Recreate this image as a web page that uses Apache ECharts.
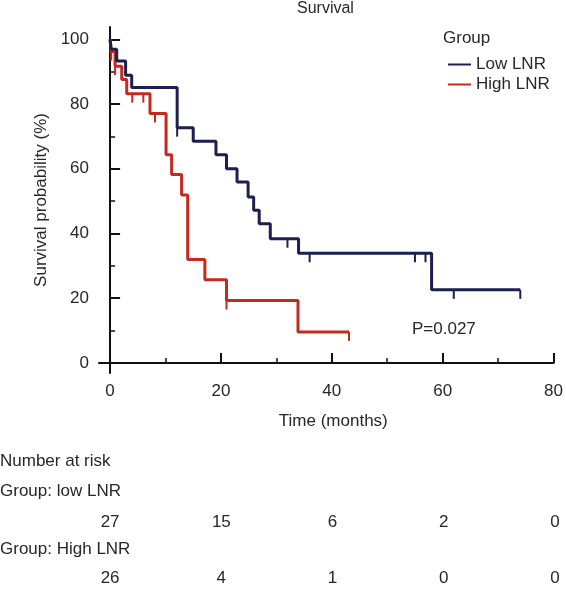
<!DOCTYPE html>
<html>
<head>
<meta charset="utf-8">
<script src="https://cdn.jsdelivr.net/npm/echarts@6/dist/echarts.min.js"></script>
<style>html,body{margin:0;padding:0;background:#fff}#c{width:566px;height:591px}</style>
</head>
<body>
<div id="c"></div>
<script>
// Low LNR step curve
var lowTimes = [0, 0.2, 1.2, 2.8, 3.9, 12.1, 15.0, 19.1, 21.0, 22.9, 24.9, 25.9, 26.9, 28.9, 34.0, 58.0, 74.0];
var lowSurv  = [100, 96.9, 93.3, 88.9, 85.1, 72.7, 68.5, 64.3, 60.0, 55.9, 51.3, 47.2, 43.0, 38.4, 33.9, 22.6, 22.6];
var lowCensorTimes = [12.1, 32.0, 36.0, 55.0, 56.9, 62.0, 74.0];
var lowCensorSurv  = [72.7, 38.4, 33.9, 33.9, 33.9, 22.6, 22.6];
// High LNR step curve
var highTimes = [0, 0.2, 0.9, 2.1, 3.0, 7.2, 10.1, 11.1, 12.9, 14.0, 17.1, 21.0, 33.9, 43.1];
var highSurv  = [100, 96.2, 91.7, 87.6, 83.2, 77.1, 64.3, 58.2, 51.9, 32.0, 25.7, 19.3, 9.6, 9.6];
var highCensorTimes = [0.2, 0.9, 4.0, 6.0, 8.1, 21.0, 43.1];
var highCensorSurv  = [96.2, 91.7, 83.2, 83.2, 77.1, 19.3, 9.6];
// axis ticks
var xMajorTicks = [0, 20, 40, 60, 80];
var xMinorTicks = [10, 30, 50, 70];
var yMajorTicks = [0, 20, 40, 60, 80, 100];
var yMinorTicks = [10, 30, 50, 70, 90];
// number at risk
var riskTimes = [0, 20, 40, 60, 80];
var riskLow  = [27, 15, 6, 2, 0];
var riskHigh = [26, 4, 1, 0, 0];

var FONT = "'Liberation Sans', Arial, Helvetica, sans-serif";
var NAVY = '#1d1f4e';
var RED = '#c42a1d';
var TXT = '#26262e';

function zip(a, b) { return a.map(function (v, i) { return [v, b[i]]; }); }

var riskData = [];
riskTimes.forEach(function (t, i) { riskData.push([t, 0, riskLow[i]]); });
riskTimes.forEach(function (t, i) { riskData.push([t, 1, riskHigh[i]]); });

var chart = echarts.init(document.getElementById('c'), null, { renderer: 'canvas' });
var option = {
  animation: false,
  textStyle: { fontFamily: FONT },
  grid: [
    { left: 99, right: 11, top: 27, bottom: 218 },
    { left: 99, right: 11, top: 522, bottom: 13 }
  ],
  xAxis: [
    {
      type: 'value', gridIndex: 0, position: 'bottom', min: -2, max: 80,
      axisLine: { show: true, lineStyle: { color: '#111', width: 2 } },
      axisTick: { show: true, inside: true, length: 10, customValues: xMajorTicks, lineStyle: { color: '#111', width: 2 } },
      axisLabel: { customValues: xMajorTicks, fontSize: 17, color: TXT, margin: 10, fontFamily: FONT },
      splitLine: { show: false },
      name: 'Time (months)', nameLocation: 'middle', nameGap: 40,
      nameTextStyle: { fontSize: 17, color: TXT, fontFamily: FONT, padding: [0, 0, 0, 14] }
    },
    {
      type: 'value', gridIndex: 0, position: 'bottom', min: -2, max: 80,
      axisLine: { show: false },
      axisTick: { show: true, inside: true, length: 5, customValues: xMinorTicks, lineStyle: { color: '#111', width: 1.5 } },
      axisLabel: { show: false },
      splitLine: { show: false }
    },
    {
      type: 'value', gridIndex: 1, min: -2, max: 80, show: false
    }
  ],
  yAxis: [
    {
      type: 'value', gridIndex: 0, position: 'left', min: -3.1, max: 103.8,
      axisLine: { show: true, lineStyle: { color: '#111', width: 2 } },
      axisTick: { show: true, inside: true, length: 10, customValues: yMajorTicks, lineStyle: { color: '#111', width: 2 } },
      axisLabel: { customValues: yMajorTicks, fontSize: 17, color: TXT, margin: 10, fontFamily: FONT },
      splitLine: { show: false },
      name: 'Survival probability (%)', nameLocation: 'middle', nameGap: 46, nameRotate: 90,
      nameTextStyle: { fontSize: 17, color: TXT, fontFamily: FONT }
    },
    {
      type: 'value', gridIndex: 0, position: 'left', min: -3.1, max: 103.8,
      axisLine: { show: false },
      axisTick: { show: true, inside: true, length: 5, customValues: yMinorTicks, lineStyle: { color: '#111', width: 1.5 } },
      axisLabel: { show: false },
      splitLine: { show: false }
    },
    {
      type: 'value', gridIndex: 1, min: 0, max: 1, inverse: true, show: false
    }
  ],
  legend: {
    orient: 'vertical', left: 443, top: 51,
    itemWidth: 23, itemHeight: 2, itemGap: 3, icon: 'rect',
    textStyle: { fontSize: 17, color: TXT, fontFamily: FONT },
    data: ['Low LNR', 'High LNR']
  },
  graphic: [
    { type: 'text', left: 297, top: 1, style: { text: 'Survival', font: '16px ' + FONT, fill: TXT } },
    { type: 'text', left: 443, top: 30, style: { text: 'Group', font: '17px ' + FONT, fill: TXT } },
    { type: 'text', left: 412, top: 321, style: { text: 'P=0.027', font: '17px ' + FONT, fill: TXT } },
    { type: 'text', left: 0, top: 453, style: { text: 'Number at risk', font: '17px ' + FONT, fill: TXT } },
    { type: 'text', left: 0, top: 483, style: { text: 'Group: low LNR', font: '17px ' + FONT, fill: TXT } },
    { type: 'text', left: 0, top: 541, style: { text: 'Group: High LNR', font: '17px ' + FONT, fill: TXT } }
  ],
  series: [
    {
      name: 'High LNR', type: 'line', xAxisIndex: 0, yAxisIndex: 0, step: 'end',
      data: zip(highTimes, highSurv), showSymbol: false, symbol: 'none',
      color: RED, lineStyle: { color: RED, width: 3 }, z: 2
    },
    {
      name: 'Low LNR', type: 'line', xAxisIndex: 0, yAxisIndex: 0, step: 'end',
      data: zip(lowTimes, lowSurv), showSymbol: false, symbol: 'none',
      color: NAVY, lineStyle: { color: NAVY, width: 3 }, z: 3
    },
    {
      name: 'High censor', type: 'scatter', xAxisIndex: 0, yAxisIndex: 0,
      data: zip(highCensorTimes, highCensorSurv), symbol: 'rect',
      symbolSize: [2, 9], symbolOffset: [0, 4.5], itemStyle: { color: RED, opacity: 1 }, z: 2
    },
    {
      name: 'Low censor', type: 'scatter', xAxisIndex: 0, yAxisIndex: 0,
      data: zip(lowCensorTimes, lowCensorSurv), symbol: 'rect',
      symbolSize: [2, 9], symbolOffset: [0, 4.5], itemStyle: { color: NAVY, opacity: 1 }, z: 3
    },
    {
      name: 'Risk', type: 'scatter', xAxisIndex: 2, yAxisIndex: 2,
      data: riskData, symbolSize: 0, itemStyle: { opacity: 1 },
      label: {
        show: true, position: 'inside', fontSize: 17, color: TXT, fontFamily: FONT, opacity: 1,
        formatter: function (p) { return String(p.value[2]); }
      }
    }
  ]
};
chart.setOption(option);
</script>
</body>
</html>
